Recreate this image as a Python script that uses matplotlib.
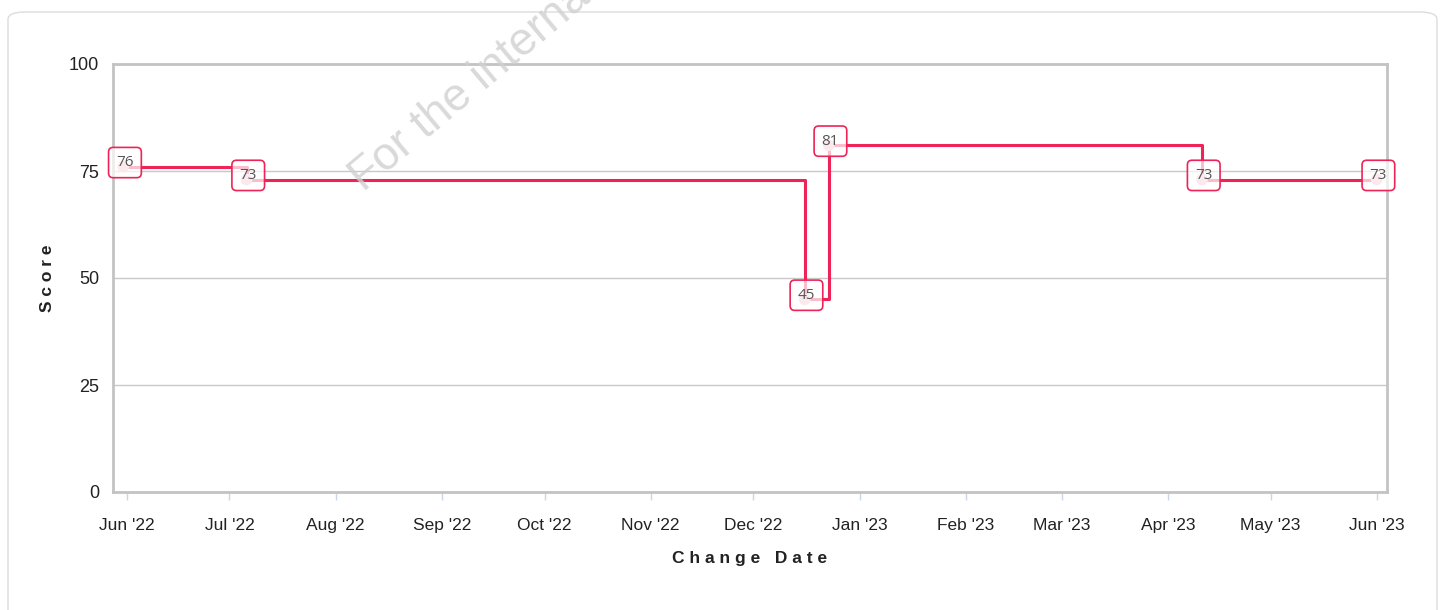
import matplotlib
matplotlib.use("Agg")
import matplotlib.pyplot as plt
import matplotlib.dates as mdates
from matplotlib.patches import FancyBboxPatch
import pandas as pd

dates = ["2022-05-31", "2022-07-06", "2022-12-16", "2022-12-23", "2023-04-11", "2023-06-01"]
scores = [76, 73, 45, 81, 73, 73]
x_start, x_end = "2022-05-28", "2023-06-04"
y_ticks = [0, 25, 50, 75, 100]

dts = pd.to_datetime(dates)
line_color = "#ee2458"

fig = plt.figure(figsize=(14.42, 6.10), dpi=100)
# card border
card = FancyBboxPatch((8/1442, -0.05), (1437-8)/1442, 1 - 12/610 + 0.05,
                      boxstyle="round,pad=0,rounding_size=0.012",
                      transform=fig.transFigure, facecolor="white",
                      edgecolor="#dcdcdc", linewidth=1.0, zorder=-5)
fig.patches.append(card)

ax = fig.add_axes([113/1442, 1-492/610, (1387-113)/1442, (492-64)/610])
ax.set_zorder(1)
ax.set_facecolor("none")
ax.plot(dts, scores, drawstyle="steps-post", color=line_color, lw=2.2, zorder=3)
ax.scatter(dts, scores, s=70, color="#f7b8c9", zorder=4, edgecolors="none")
for d, v in zip(dts, scores):
    ax.annotate(f"{v}", (d, v), xytext=(1.2, 3), textcoords="offset points",
                ha="center", va="center", fontsize=11, color="#555555",
                fontfamily="Open Sans",
                bbox=dict(boxstyle="round,pad=0.5,rounding_size=0.3",
                          fc=(1, 1, 1, 0.7), ec=line_color, lw=1.2),
                zorder=5)

ax.set_xlim(pd.Timestamp(x_start), pd.Timestamp(x_end))
ax.set_ylim(0, 100)
ax.set_yticks(y_ticks)
ax.yaxis.grid(True, color="#c8c8c8", lw=1)
ax.set_axisbelow(True)
ax.xaxis.set_major_locator(mdates.MonthLocator())
ax.xaxis.set_major_formatter(mdates.DateFormatter("%b '%y"))
for s in ax.spines.values():
    s.set_color("#c3c3c3")
    s.set_linewidth(2)
ax.tick_params(axis="x", length=6, width=1, color="#ccd6eb", pad=13,
               labelsize=12.5, labelcolor="#222222")
ax.tick_params(axis="y", length=0, pad=10, labelsize=13, labelcolor="#222222")
for lab in ax.get_xticklabels() + ax.get_yticklabels():
    lab.set_fontfamily("Liberation Sans")

ax.set_xlabel("C h a n g e   D a t e", fontsize=12.5, fontweight="bold",
              fontfamily="Liberation Sans", color="#222222", labelpad=13)
ax.set_ylabel("S c o r e", fontsize=12.5, fontweight="bold",
              fontfamily="Liberation Sans", color="#222222", labelpad=10)

fig.text(370/1442, 1-200/610, "For the internal use only", rotation=40,
         rotation_mode="anchor", ha="left", va="bottom", fontsize=33,
         color="#d0d0d0", alpha=0.8, fontfamily="Liberation Sans", zorder=10)

fig.savefig("out.png", dpi=100)
